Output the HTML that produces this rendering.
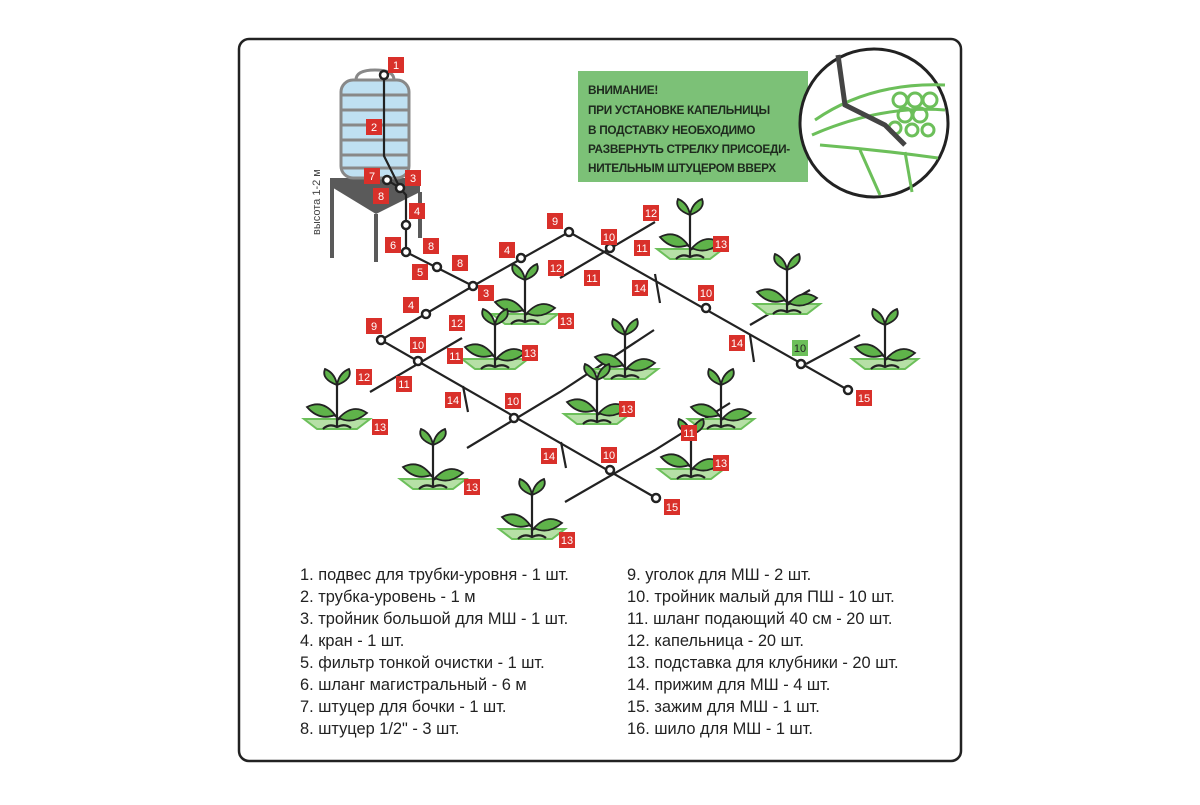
<!DOCTYPE html>
<html><head><meta charset="utf-8"><style>
body{margin:0;background:#fff;width:1200px;height:800px;overflow:hidden;font-family:"Liberation Sans",sans-serif}
</style></head><body>
<svg width="1200" height="800" viewBox="0 0 1200 800" xmlns="http://www.w3.org/2000/svg" font-family="Liberation Sans, sans-serif">
<defs>
<symbol id="p" viewBox="-35 -45 70 60" overflow="visible">
<path d="M-33,4 L33,4 L20,14 L-20,14 Z" fill="#b6e0a6" stroke="#6cbf5a" stroke-width="2"/>
<path d="M0,12 V-30 M0,-30 Q-6,-38 -10,-42 M0,-30 Q6,-38 10,-42 M0,2 Q-10,-6 -22,-8 M0,5 Q10,-2 22,-2 M-14,14 Q-8,8 0,12 Q8,8 14,13" stroke="#222" stroke-width="2.2" fill="none"/>
<path d="M0,-30 Q-16,-36 -12,-46 Q-2,-42 0,-30Z M0,-30 Q16,-36 12,-46 Q2,-42 0,-30Z" fill="#5fb34a" stroke="#222" stroke-width="1.8"/>
<path d="M-2,0 Q-14,-16 -30,-8 Q-18,6 -2,0Z M2,3 Q16,-12 30,-2 Q16,10 2,3Z" fill="#5fb34a" stroke="#222" stroke-width="1.8"/>
</symbol>
</defs>
<rect x="239" y="39" width="722" height="722" rx="10" fill="#fff" stroke="#222" stroke-width="2.5"/>
<path d="M330,178 L420,178 L420,192 L376,214 L330,186Z" fill="#5a5a5a"/>
<path d="M332,186 V258 M376,214 V262 M420,192 V238" stroke="#5a5a5a" stroke-width="4"/>
<rect x="341" y="80" width="68" height="98" rx="12" fill="#bfe0f2" stroke="#888" stroke-width="3"/>
<path d="M341,95 H409 M341,110 H409 M341,125 H409 M341,140 H409 M341,155 H409 M341,168 H409" stroke="#888" stroke-width="3"/>
<path d="M356,80 Q356,70 375,70 Q394,70 394,80Z" fill="#fff" stroke="#888" stroke-width="3"/>
<text x="320" y="235" font-size="11" fill="#444" transform="rotate(-90 320 235)">высота 1-2 м</text>
<g stroke="#222" stroke-width="2.2" fill="none">
<path d="M384,75 V156 L400,188 L406,195 V252 L473,286 L569,232 L848,390"/>
<path d="M473,286 L381,340 L656,498"/>
<path d="M387,180 L400,188"/>
<path d="M560,278 L655,222 M370,392 L462,338 M467,448 L560,392 L654,330 M565,502 L655,450 L730,403 M750,325 L810,290 M806,364 L860,335"/>
<path d="M655,274 L660,303 M463,386 L468,412 M750,335 L754,362 M561,442 L566,468"/>
</g>
<g fill="#fff" stroke="#222" stroke-width="2.5">
<circle cx="384" cy="75" r="4"/><circle cx="387" cy="180" r="4"/><circle cx="400" cy="188" r="4"/>
<circle cx="406" cy="225" r="4"/><circle cx="406" cy="252" r="4"/><circle cx="437" cy="267" r="4"/>
<circle cx="473" cy="286" r="4"/><circle cx="521" cy="258" r="4"/><circle cx="569" cy="232" r="4"/>
<circle cx="610" cy="248" r="4"/><circle cx="706" cy="308" r="4"/><circle cx="801" cy="364" r="4"/><circle cx="848" cy="390" r="4"/>
<circle cx="426" cy="314" r="4"/><circle cx="381" cy="340" r="4"/><circle cx="418" cy="361" r="4"/>
<circle cx="514" cy="418" r="4"/><circle cx="610" cy="470" r="4"/><circle cx="656" cy="498" r="4"/>
</g>
<use href="#p" x="655" y="200" width="70" height="60"/>
<use href="#p" x="490" y="265" width="70" height="60"/>
<use href="#p" x="752" y="255" width="70" height="60"/>
<use href="#p" x="460" y="310" width="70" height="60"/>
<use href="#p" x="590" y="320" width="70" height="60"/>
<use href="#p" x="850" y="310" width="70" height="60"/>
<use href="#p" x="302" y="370" width="70" height="60"/>
<use href="#p" x="562" y="365" width="70" height="60"/>
<use href="#p" x="686" y="370" width="70" height="60"/>
<use href="#p" x="398" y="430" width="70" height="60"/>
<use href="#p" x="656" y="420" width="70" height="60"/>
<use href="#p" x="497" y="480" width="70" height="60"/>
<rect x="578" y="71" width="230" height="111" fill="#7cc177"/>
<g font-size="11.8" font-weight="bold" fill="#1e2a1e" letter-spacing="-0.3">
<text x="588" y="94">ВНИМАНИЕ!</text>
<text x="588" y="114">ПРИ УСТАНОВКЕ КАПЕЛЬНИЦЫ</text>
<text x="588" y="134">В ПОДСТАВКУ НЕОБХОДИМО</text>
<text x="588" y="153">РАЗВЕРНУТЬ СТРЕЛКУ ПРИСОЕДИ-</text>
<text x="588" y="172">НИТЕЛЬНЫМ ШТУЦЕРОМ ВВЕРХ</text>
</g>
<circle cx="874" cy="123" r="74" fill="#fff" stroke="#222" stroke-width="3"/>
<g stroke="#6cbf5a" stroke-width="3" fill="none">
<path d="M815,120 Q870,82 945,85 M812,135 Q880,105 945,110 M820,145 Q880,150 938,158 M860,150 L880,195 M905,152 L912,192"/>
<circle cx="900" cy="100" r="7"/><circle cx="915" cy="100" r="7"/><circle cx="930" cy="100" r="7"/><circle cx="905" cy="115" r="7"/><circle cx="920" cy="115" r="7"/><circle cx="895" cy="128" r="6"/><circle cx="912" cy="130" r="6"/><circle cx="928" cy="130" r="6"/>
</g>
<path d="M838,55 L845,105 L885,125 L905,145" stroke="#444" stroke-width="5" fill="none"/>
<g font-size="11" fill="#fff" text-anchor="middle">
<g fill="#d9302a">
<rect x="388" y="57" width="16" height="16"/><rect x="366" y="119" width="16" height="16"/><rect x="405" y="170" width="16" height="16"/>
<rect x="364" y="168" width="16" height="16"/><rect x="373" y="188" width="16" height="16"/><rect x="409" y="203" width="16" height="16"/>
<rect x="385" y="237" width="16" height="16"/><rect x="423" y="238" width="16" height="16"/><rect x="412" y="264" width="16" height="16"/>
<rect x="452" y="255" width="16" height="16"/><rect x="499" y="242" width="16" height="16"/><rect x="547" y="213" width="16" height="16"/>
<rect x="601" y="229" width="16" height="16"/><rect x="634" y="240" width="16" height="16"/><rect x="643" y="205" width="16" height="16"/>
<rect x="713" y="236" width="16" height="16"/><rect x="478" y="285" width="16" height="16"/><rect x="548" y="260" width="16" height="16"/>
<rect x="584" y="270" width="16" height="16"/><rect x="403" y="297" width="16" height="16"/><rect x="366" y="318" width="16" height="16"/>
<rect x="449" y="315" width="16" height="16"/><rect x="410" y="337" width="16" height="16"/><rect x="447" y="348" width="16" height="16"/>
<rect x="522" y="345" width="16" height="16"/><rect x="558" y="313" width="16" height="16"/><rect x="632" y="280" width="16" height="16"/>
<rect x="698" y="285" width="16" height="16"/><rect x="729" y="335" width="16" height="16"/><rect x="856" y="390" width="16" height="16"/>
<rect x="356" y="369" width="16" height="16"/><rect x="396" y="376" width="16" height="16"/><rect x="372" y="419" width="16" height="16"/>
<rect x="445" y="392" width="16" height="16"/><rect x="505" y="393" width="16" height="16"/><rect x="619" y="401" width="16" height="16"/>
<rect x="681" y="425" width="16" height="16"/><rect x="713" y="455" width="16" height="16"/><rect x="541" y="448" width="16" height="16"/>
<rect x="601" y="447" width="16" height="16"/><rect x="664" y="499" width="16" height="16"/><rect x="464" y="479" width="16" height="16"/>
<rect x="559" y="532" width="16" height="16"/>
</g>
<rect x="792" y="340" width="16" height="16" fill="#6cbf5a"/>
<text x="396" y="69">1</text><text x="374" y="131">2</text><text x="413" y="182">3</text>
<text x="372" y="180">7</text><text x="381" y="200">8</text><text x="417" y="215">4</text>
<text x="393" y="249">6</text><text x="431" y="250">8</text><text x="420" y="276">5</text>
<text x="460" y="267">8</text><text x="507" y="254">4</text><text x="555" y="225">9</text>
<text x="609" y="241">10</text><text x="642" y="252">11</text><text x="651" y="217">12</text>
<text x="721" y="248">13</text><text x="486" y="297">3</text><text x="556" y="272">12</text>
<text x="592" y="282">11</text><text x="411" y="309">4</text><text x="374" y="330">9</text>
<text x="457" y="327">12</text><text x="418" y="349">10</text><text x="455" y="360">11</text>
<text x="530" y="357">13</text><text x="566" y="325">13</text><text x="640" y="292">14</text>
<text x="706" y="297">10</text><text x="737" y="347">14</text><text x="864" y="402">15</text>
<text x="364" y="381">12</text><text x="404" y="388">11</text><text x="380" y="431">13</text>
<text x="453" y="404">14</text><text x="513" y="405">10</text><text x="627" y="413">13</text>
<text x="689" y="437">11</text><text x="721" y="467">13</text><text x="549" y="460">14</text>
<text x="609" y="459">10</text><text x="672" y="511">15</text><text x="472" y="491">13</text>
<text x="567" y="544">13</text><text x="800" y="352" fill="#222">10</text>
</g>
<g font-size="16.4" fill="#222">
<text x="300" y="580">1. подвес для трубки-уровня - 1 шт.</text>
<text x="300" y="602">2. трубка-уровень - 1 м</text>
<text x="300" y="624">3. тройник большой для МШ - 1 шт.</text>
<text x="300" y="646">4. кран - 1 шт.</text>
<text x="300" y="668">5. фильтр тонкой очистки - 1 шт.</text>
<text x="300" y="690">6. шланг магистральный - 6 м</text>
<text x="300" y="712">7. штуцер для бочки - 1 шт.</text>
<text x="300" y="734">8. штуцер 1/2" - 3 шт.</text>
<text x="627" y="580">9. уголок для МШ - 2 шт.</text>
<text x="627" y="602">10. тройник малый для ПШ - 10 шт.</text>
<text x="627" y="624">11. шланг подающий 40 см - 20 шт.</text>
<text x="627" y="646">12. капельница - 20 шт.</text>
<text x="627" y="668">13. подставка для клубники - 20 шт.</text>
<text x="627" y="690">14. прижим для МШ - 4 шт.</text>
<text x="627" y="712">15. зажим для МШ - 1 шт.</text>
<text x="627" y="734">16. шило для МШ - 1 шт.</text>
</g>
</svg>
</body></html>
